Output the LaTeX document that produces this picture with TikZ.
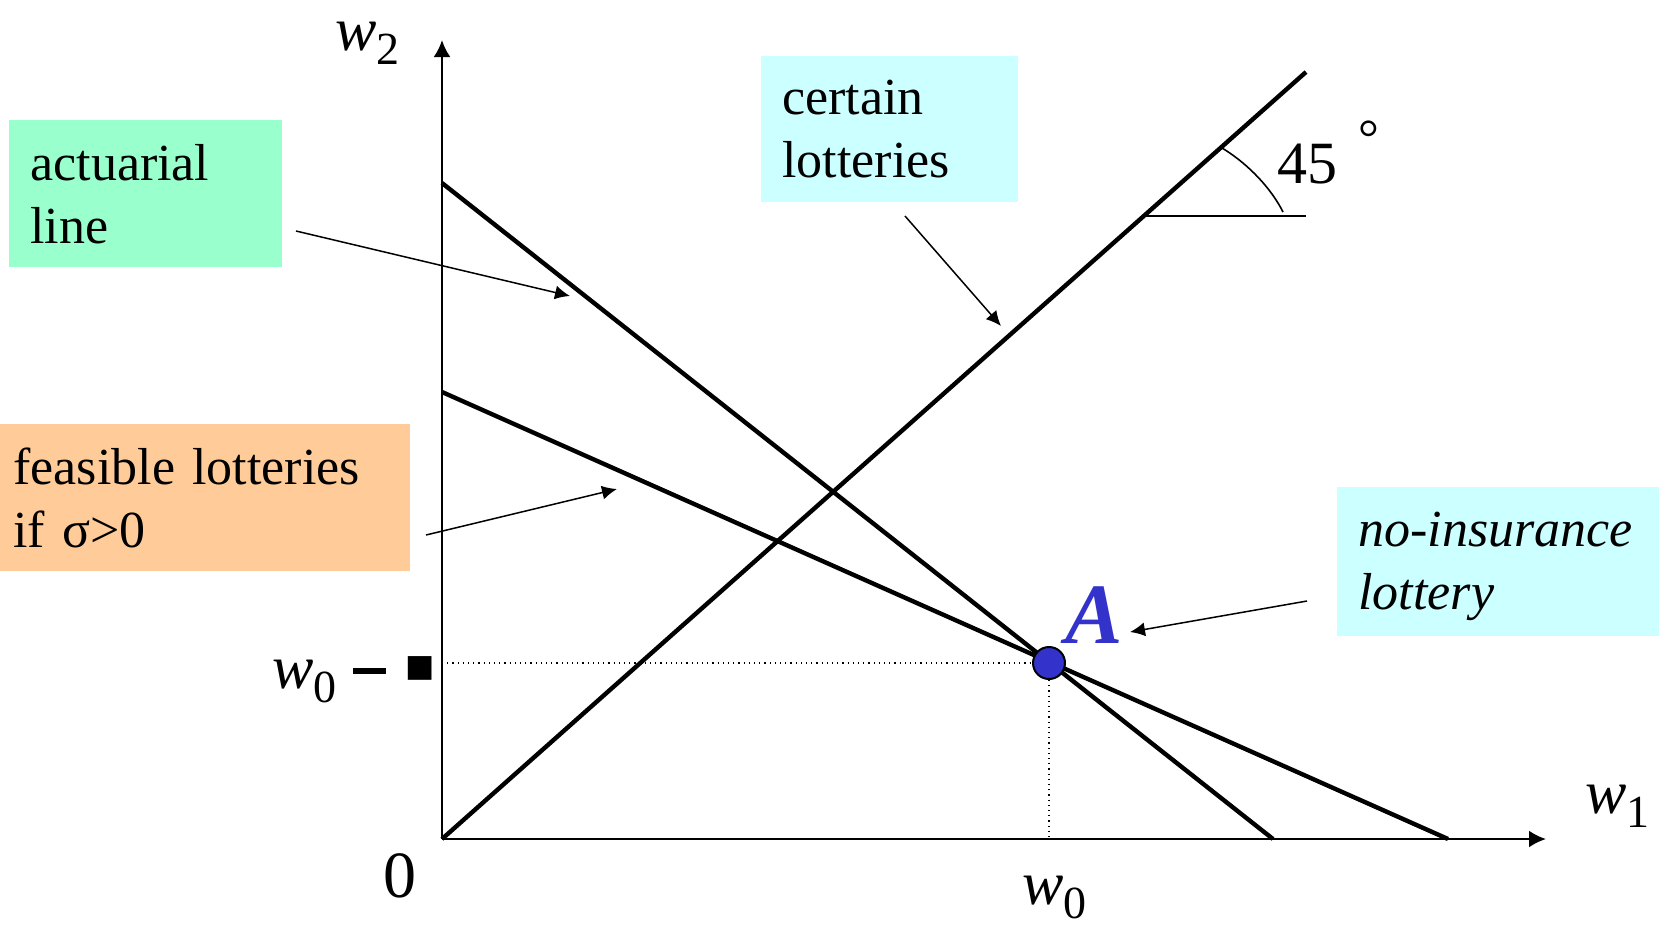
\documentclass[tikz,border=0pt]{standalone}
\usepackage{fontspec}
\setmainfont{Liberation Serif}
\newfontfamily\symbolfont{DejaVu Sans}
\usetikzlibrary{arrows.meta, positioning}

\definecolor{actgreen}{HTML}{99FFCC}
\definecolor{certcyan}{HTML}{CCFFFF}
\definecolor{feasorange}{HTML}{FFCC99}
\definecolor{pointblue}{HTML}{3333CC}

\newcommand{\wsub}[1]{{\fontsize{31}{31}\selectfont\itshape w}{\fontsize{23}{23}\selectfont\raisebox{-7pt}{#1}}}

\begin{document}
\begin{tikzpicture}[
          x=0.5pt, y=-0.5pt,
          mainline/.style={line width=2.2pt},
          axisline/.style={line width=1.3pt, -{Latex[length=8.5pt, width=8.5pt]}},
          pointer/.style={line width=0.75pt, -{Latex[length=7.5pt, width=7pt]}},
          guide/.style={line width=0.6pt, dotted},
          marker/.style={line width=0.8pt},
          labelbox/.style={anchor=north west, inner ysep=0pt, align=left, font=\fontsize{26}{31.5}\selectfont},
          axislabel/.style={anchor=base west, inner sep=0pt}
        ]
        \useasboundingbox (0,0) rectangle (1670,928);

        % ----------------------------------------------------
        % AXES
        % ----------------------------------------------------
        \coordinate (O) at (442,839);
        \coordinate (ytop) at (442,40);
        \coordinate (xend) at (1546,839);
        \draw[axisline] (O) -- (ytop);
        \draw[axisline] (O) -- (xend);

        \node[axislabel] (w2lab) at (335,50) {\wsub{2}};
        \node[axislabel] (w1lab) at (1585,813) {\wsub{1}};
        \node[axislabel] (w0lab) at (1022,904) {\wsub{0}};
        \node[axislabel] (lossl) at (272,688) {\wsub{0}\hspace{8pt}\rule[7pt]{16.5pt}{3pt}\hspace{10pt}\raisebox{6pt}{\symbolfont\fontsize{15.5}{15.5}\selectfont ■}};
        \node[axislabel, font=\fontsize{33}{33}\selectfont] (zero) at (383,897) {0};

        % ----------------------------------------------------
        % LINES
        % ----------------------------------------------------
        \coordinate (act0) at (442,183);
        \coordinate (act1) at (1273,839);
        \coordinate (feas0) at (442,392);
        \coordinate (feas1) at (1448,839);
        \coordinate (cert1) at (1306,72);
        \draw[mainline] (act0) -- (act1);
        \draw[mainline] (feas0) -- (feas1);
        \draw[mainline] (O) -- (cert1);

        % 45 degree mark
        \coordinate (m0) at (1144,216);
        \coordinate (m1) at (1306,216);
        \draw[marker] (m0) -- (m1);
        \draw[marker] (1222,148) .. controls (1250,165) and (1272,190) .. (1283,212);
        \node[axislabel, font=\fontsize{30}{30}\selectfont] (deglab) at (1277,183) {45};
        \node[axislabel, font=\fontsize{26}{26}\selectfont] (ring) at (1358,155) {°};

        % point A
        \coordinate (Apt) at (1049,663);
        \coordinate (Ay) at (442,663);
        \coordinate (Ax) at (1049,839);
        \draw[guide] (Ay) -- (Apt) -- (Ax);
        \node[circle, fill=pointblue, draw=black, line width=1pt, minimum size=16pt, inner sep=0pt] (A) at (Apt) {};
        \node[axislabel, font=\fontsize{43}{43}\selectfont\bfseries\itshape, text=pointblue] (Alab) at (1065,643) {A};

        % ----------------------------------------------------
        % LABEL BOXES
        % ----------------------------------------------------
        \node[labelbox, fill=actgreen, inner xsep=10.5pt, text width=115.5pt, minimum height=73.5pt] (actbox) at (9,120) {actuarial\\line};
        \node[labelbox, fill=certcyan, inner xsep=10.5pt, text width=107.5pt, minimum height=73pt] (certbox) at (761,56) {certain\\lotteries};
        \node[labelbox, fill=feasorange, inner xsep=6.5pt, text width=192pt, minimum height=73.5pt] (feasbox) at (0,424) {feasible lotteries\\if σ>0};
        \node[labelbox, fill=certcyan, inner xsep=10.5pt, text width=140pt, minimum height=74.5pt, font=\fontsize{26}{31.5}\selectfont\itshape] (noinsbox) at (1337,487) {\rule{0pt}{22pt}no-insurance\\lottery};

        % ----------------------------------------------------
        % POINTERS
        % ----------------------------------------------------
        \coordinate (actfrom) at (296,231);
        \coordinate (actto) at (570,296);
        \coordinate (certfrom) at (905,216);
        \coordinate (certto) at (1001,326);
        \coordinate (feasfrom) at (426,535);
        \coordinate (feasto) at (617,489);
        \coordinate (noinsfrom) at (1307,601);
        \coordinate (noinsto) at (1130,632);
        \draw[pointer] (actfrom) -- (actto);
        \draw[pointer] (certfrom) -- (certto);
        \draw[pointer] (feasfrom) -- (feasto);
        \draw[pointer] (noinsfrom) -- (noinsto);
      \end{tikzpicture}
\end{document}
